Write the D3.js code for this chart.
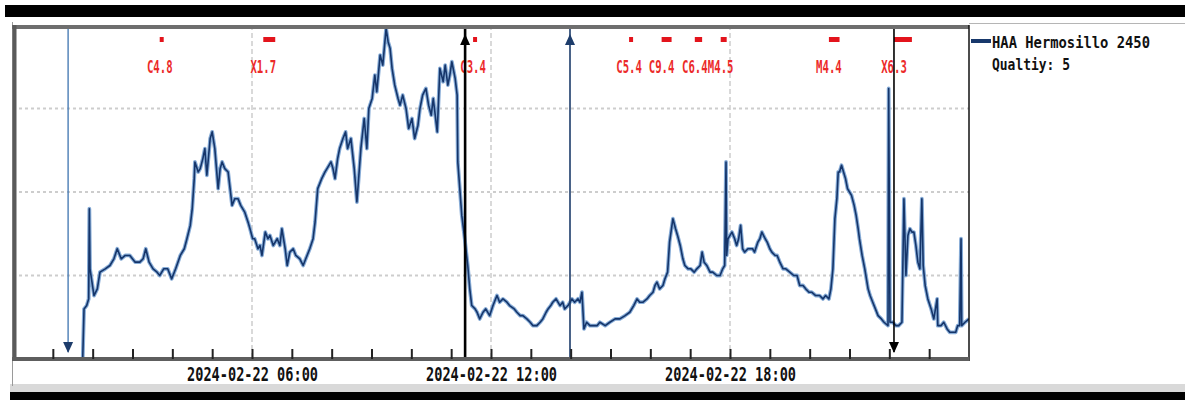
<!DOCTYPE html>
<html>
<head>
<meta charset="utf-8">
<script src="https://cdn.jsdelivr.net/npm/d3@7"></script>
<style>
  html, body { margin: 0; padding: 0; background: #fff; }
  svg { display: block; }
</style>
</head>
<body>
<svg id="chart" width="1185" height="400"></svg>
<script>
// Day shown (UTC) and its hourly ticks
const dayLabel = "2024-02-22";
const labelHours = [6, 12, 18];

// Received signal, [minutes after 00:00 UT, level]
const signalSamples = [
  [105,0],[107,15],[111,16],[114,18],[115,45],[116,27],[122,19],[127,21],[131,26],[139,27],
  [146,28],[152,30],[157,33],[163,30],[169,31],[176,31],[184,29],[191,29],[196,30],[200,33],
  [205,29],[211,27],[217,26],[221,25],[227,27],[233,27],[239,24],[245,27],[252,31],[258,33],
  [262,36],[267,40],[270,45],[273,54],[274,59],[279,56],[282,57],[286,60],[289,63],[292,55],
  [297,66],[300,68],[304,63],[309,51],[312,57],[315,59],[319,57],[324,56],[327,51],[330,46],
  [334,48],[339,48],[343,46],[349,44],[354,41],[357,39],[361,36],[364,36],[369,33],[372,34],
  [375,31],[380,38],[384,36],[387,37],[392,34],[398,36],[402,34],[405,39],[410,33],[413,28],
  [417,32],[422,33],[426,31],[432,30],[437,28],[441,30],[447,33],[452,36],[455,41],[459,51],
  [465,54],[470,56],[473,57],[479,59],[482,57],[485,54],[489,60],[492,63],[497,66],[501,68],
  [504,63],[509,66],[514,57],[518,47],[521,55],[524,63],[529,72],[533,63],[536,75],[541,78],
  [545,85],[548,80],[553,91],[557,88],[562,99],[565,95],[568,93],[571,87],[575,82],[580,78],
  [583,76],[587,79],[592,75],[596,69],[601,72],[605,66],[610,70],[613,75],[617,79],[622,81],
  [626,76],[630,73],[633,78],[639,68],[643,87],[648,83],[651,88],[655,82],[658,85],[661,89],
  [666,84],[669,79],[670,59],[673,51],[676,43],[681,35],[685,28],[688,21],[691,16],[696,15],
  [699,14],[703,12],[708,14],[712,15],[718,13],[723,16],[729,19],[733,17],[738,18],[744,17],
  [748,16],[755,15],[759,14],[764,13],[768,13],[774,12],[779,11],[783,10],[789,10],[794,11],
  [798,12],[803,14],[806,15],[810,16],[813,17],[818,18],[824,16],[828,17],[831,15],[836,16],
  [842,18],[846,17],[851,18],[854,17],[857,20],[860,9],[864,11],[869,10],[873,10],[880,10],
  [884,11],[892,10],[899,11],[907,12],[914,12],[922,13],[929,14],[935,16],[940,18],[944,17],
  [949,17],[955,18],[959,19],[964,20],[967,22],[970,23],[974,21],[979,22],[982,24],[986,26],
  [989,35],[994,42],[998,39],[1001,37],[1005,34],[1009,30],[1012,28],[1017,27],[1021,27],[1026,26],
  [1030,27],[1035,28],[1038,32],[1041,29],[1045,28],[1050,26],[1054,26],[1060,25],[1065,25],[1069,27],
  [1072,28],[1074,59],[1075,31],[1077,36],[1080,37],[1083,38],[1087,36],[1090,34],[1093,36],[1096,40],
  [1099,33],[1102,32],[1107,33],[1110,33],[1114,33],[1117,32],[1122,35],[1125,36],[1128,38],[1133,36],
  [1136,35],[1140,33],[1143,32],[1148,31],[1151,31],[1155,29],[1160,27],[1164,27],[1170,26],[1176,25],
  [1181,25],[1185,22],[1190,22],[1194,21],[1199,20],[1203,20],[1209,19],[1215,19],[1220,18],[1224,19],
  [1229,18],[1232,21],[1235,27],[1238,42],[1241,48],[1243,56],[1245,56],[1248,58],[1251,56],[1254,54],
  [1257,51],[1260,50],[1263,49],[1267,46],[1270,43],[1273,39],[1275,36],[1279,31],[1283,27],[1288,21],
  [1291,19],[1295,17],[1299,15],[1303,13],[1308,12],[1312,11],[1318,10],[1319,81],[1321,11],[1325,11],
  [1330,10],[1334,10],[1339,11],[1342,48],[1345,25],[1348,37],[1351,39],[1354,38],[1357,38],[1360,34],
  [1363,29],[1366,27],[1369,48],[1371,28],[1374,22],[1378,18],[1383,15],[1387,12],[1392,18],[1393,10],
  [1398,10],[1402,11],[1407,9],[1411,8],[1416,8],[1420,8],[1423,10],[1426,10],[1428,36],[1429,10],
  [1434,11],[1440,12]
];

// GOES flares of the day
const flareClass = ["C4.8","X1.7","C3.4","C5.4","C9.4","C6.4","M4.5","M4.4","X6.3"];
const flareStart = ["03:41","06:17","11:33","15:28","16:17","17:07","17:46","20:29","22:07"];
const flareEnd   = ["03:47","06:35","11:39","15:34","16:32","17:18","17:55","20:45","22:34"];

// Sunrise / sunset along the path
const sunTimes = ["01:23","11:21","13:59","22:07"];
const sunKind  = ["set","rise","rise","set"];
const sunSite  = ["rx","tx","rx","tx"];

// Legend
const stationName = "HAA Hermosillo 2450";
const qualityText = "Qualtiy: 5";

const svg = d3.select("#chart");
const W = 1185, H = 400;
const plot = { left: 13, right: 969, top: 25, bottom: 359 };

const parseT = d3.utcParse("%Y-%m-%d %H:%M");
const dayStart = parseT(dayLabel + " 00:00");
const dayEnd = d3.utcDay.offset(dayStart, 1);
const at = s => parseT(dayLabel + " " + s);

const x = d3.scaleUtc().domain([dayStart, dayEnd]).range([plot.left, plot.right]);
const y = d3.scaleLinear().domain([0, 100]).range([plot.bottom, plot.top]);

const MONO = "'DejaVu Sans Mono', 'Liberation Mono', monospace";

// page chrome
svg.append("rect").attr("width", W).attr("height", H).attr("fill", "#fff");
svg.append("rect").attr("x", 5).attr("y", 5).attr("width", W - 5).attr("height", 12).attr("fill", "#000");
svg.append("rect").attr("x", 10).attr("y", 384).attr("width", W - 10).attr("height", 8).attr("fill", "#d9d9d9");
svg.append("rect").attr("x", 10).attr("y", 392).attr("width", W - 10).attr("height", 8).attr("fill", "#000");
svg.append("line").attr("x1", 12.5).attr("x2", 12.5).attr("y1", 22).attr("y2", 386)
  .attr("stroke", "#9a9a9a").attr("stroke-width", 1);
svg.append("line").attr("x1", plot.right).attr("x2", W).attr("y1", 23.5).attr("y2", 23.5)
  .attr("stroke", "#b5b5b5").attr("stroke-width", 1);

// grid
const grid = svg.append("g");
grid.selectAll("line.h").data([25, 50, 75]).join("line")
  .attr("x1", plot.left).attr("x2", plot.right)
  .attr("y1", d => y(d)).attr("y2", d => y(d))
  .attr("stroke", "#cdcdcd").attr("stroke-width", 2).attr("stroke-dasharray", "3,3");
grid.selectAll("line.v").data(labelHours).join("line")
  .attr("x1", d => x(d3.utcHour.offset(dayStart, d))).attr("x2", d => x(d3.utcHour.offset(dayStart, d)))
  .attr("y1", plot.top).attr("y2", plot.bottom)
  .attr("stroke", "#cdcdcd").attr("stroke-width", 1.5).attr("stroke-dasharray", "5,3");

// signal trace
svg.append("defs").append("clipPath").attr("id", "plotClip")
  .append("rect").attr("x", plot.left).attr("y", plot.top)
  .attr("width", plot.right - plot.left).attr("height", plot.bottom - plot.top);
const pts = signalSamples.map(([m, v]) => [d3.utcMinute.offset(dayStart, m), v]);
const line = d3.line().x(d => x(d[0])).y(d => y(d[1]));
const trace = svg.append("g").attr("clip-path", "url(#plotClip)");
trace.append("path").datum(pts).attr("d", line).attr("fill", "none")
  .attr("stroke", "#86abd6").attr("stroke-width", 3.8).attr("stroke-linejoin", "round");
trace.append("path").datum(pts).attr("d", line).attr("fill", "none")
  .attr("stroke", "#15356a").attr("stroke-width", 1.6).attr("stroke-linejoin", "round");

// flare bars and classes (narrow, tall type)
const flares = svg.append("g");
flareClass.forEach((c, i) => {
  const x0 = x(at(flareStart[i])), x1 = x(at(flareEnd[i]));
  flares.append("rect").attr("x", x0).attr("y", 37)
    .attr("width", Math.max(x1 - x0, 3.5)).attr("height", 5).attr("fill", "#e3141c");
  flares.append("text")
    .attr("transform", `translate(${x0},73) scale(0.82,1.4)`)
    .attr("text-anchor", "middle").attr("font-family", MONO).attr("font-weight", "bold")
    .attr("font-size", 13).attr("fill", "#ec2a2a").text(c);
});

// sunrise / sunset markers
const sunStyle = {
  "rx-set":  { line: "#4a7db5", head: "#1d3c6b", w: 1.4 },
  "rx-rise": { line: "#1d3c6b", head: "#1d3c6b", w: 1.6 },
  "tx-rise": { line: "#000",    head: "#000",    w: 2.6 },
  "tx-set":  { line: "#000",    head: "#000",    w: 1.6 }
};
const sun = svg.append("g");
sunTimes.forEach((t, i) => {
  const sx = x(at(t));
  const st = sunStyle[sunSite[i] + "-" + sunKind[i]];
  const down = sunKind[i] === "set";
  sun.append("line").attr("x1", sx).attr("x2", sx)
    .attr("y1", plot.top + 2).attr("y2", down ? 352 : plot.bottom)
    .attr("stroke", st.line).attr("stroke-width", st.w);
  const tri = down
    ? [[sx - 5, 342], [sx + 5, 342], [sx, 353]]
    : [[sx - 5, 45], [sx + 5, 45], [sx, 34]];
  sun.append("path").attr("d", d3.line()(tri) + "Z").attr("fill", st.head);
});

// frame
const frame = svg.append("g");
frame.append("line").attr("x1", 12).attr("x2", plot.right).attr("y1", 27).attr("y2", 27)
  .attr("stroke", "#6e6e6e").attr("stroke-width", 4);
frame.append("line").attr("x1", 14.5).attr("x2", 14.5).attr("y1", 25).attr("y2", 361)
  .attr("stroke", "#5a5a5a").attr("stroke-width", 4);
frame.append("line").attr("x1", plot.right).attr("x2", plot.right).attr("y1", 25).attr("y2", 361)
  .attr("stroke", "#111").attr("stroke-width", 1.5);

// time axis: hourly ticks pointing inward, labels every six hours
const fmt = d3.utcFormat("%Y-%m-%d %H:%M");
const axis = d3.axisBottom(x)
  .tickValues(d3.utcHour.range(d3.utcHour.offset(dayStart, 1), dayEnd))
  .tickSizeInner(-10).tickSizeOuter(0)
  .tickFormat(d => labelHours.includes(d.getUTCHours()) ? fmt(d) : "");
const ax = svg.append("g").attr("transform", `translate(0,${plot.bottom})`).call(axis);
ax.select(".domain").attr("stroke", "#5e5e5e").attr("stroke-width", 4)
  .attr("d", `M12,0H${plot.right}`);
ax.selectAll(".tick line").attr("stroke", "#222").attr("stroke-width", 2);
ax.selectAll(".tick text")
  .attr("y", 22).attr("dy", 0)
  .attr("font-family", MONO).attr("font-weight", "bold").attr("font-size", 20)
  .attr("fill", "#111")
  .each(function () {
    if (this.textContent) d3.select(this).attr("textLength", 131).attr("lengthAdjust", "spacingAndGlyphs");
  });

// legend
const lg = svg.append("g");
lg.append("rect").attr("x", 971).attr("y", 39).attr("width", 20).attr("height", 4).attr("fill", "#17386b");
lg.append("text").attr("x", 992).attr("y", 48)
  .attr("font-family", MONO).attr("font-weight", "bold").attr("font-size", 15)
  .attr("textLength", 158).attr("lengthAdjust", "spacingAndGlyphs").attr("fill", "#111")
  .text(stationName);
lg.append("text").attr("x", 992).attr("y", 70)
  .attr("font-family", MONO).attr("font-weight", "bold").attr("font-size", 16)
  .attr("textLength", 78).attr("lengthAdjust", "spacingAndGlyphs").attr("fill", "#111")
  .text(qualityText);
</script>
</body>
</html>
